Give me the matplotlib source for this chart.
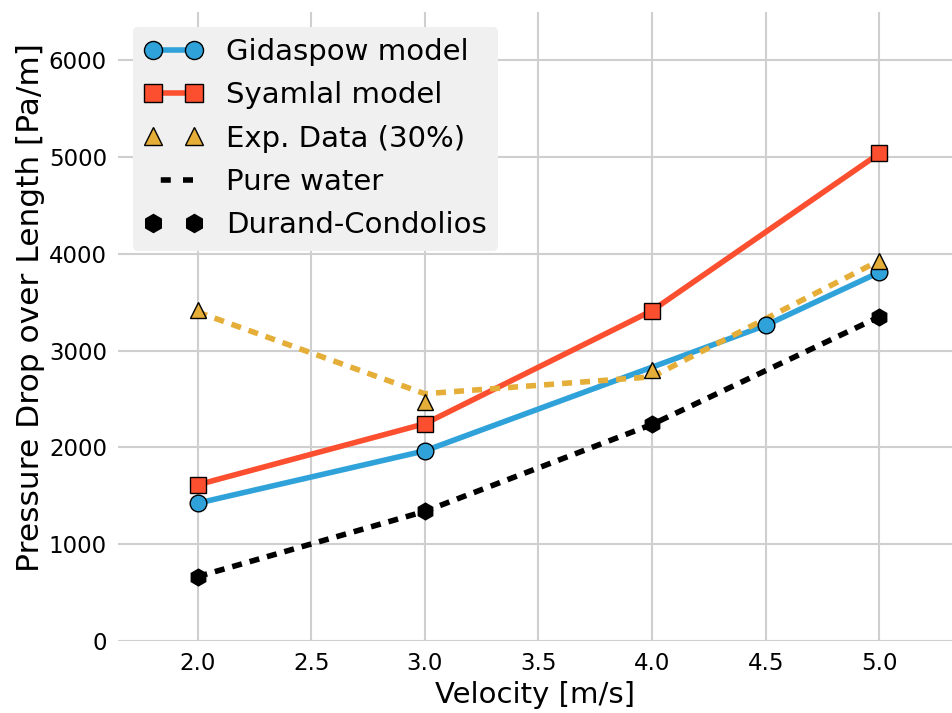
import matplotlib
matplotlib.use('Agg')
import matplotlib.pyplot as plt
from matplotlib.lines import Line2D

# data
vel_gida = [2.0, 3.0, 4.5, 5.0]
dp_gida = [1424, 1965, 3262, 3810]

vel_syam = [2.0, 3.0, 4.0, 5.0]
dp_syam = [1614, 2245, 3414, 5038]

vel_exp = [2.0, 3.0, 4.0, 5.0]
dp_exp = [3424, 2469, 2800, 3924]
dp_exp_fit = [3400, 2555, 2730, 3930]

vel_water = [2.0, 3.0, 4.0, 5.0]
dp_water = [665, 1340, 2238, 3350]
dp_durand = [665, 1340, 2238, 3350]

blue = '#30a2da'
red = '#fc4f30'
yellow = '#e5ae38'

plt.rcParams['font.family'] = 'DejaVu Sans'

fig = plt.figure(figsize=(9.52, 7.13), dpi=100)
ax = fig.add_axes([118/952, 72/713, 1 - 118/952, (641 - 12)/713])

dash = (1.8, 1.45)  # scaled by linewidth

ax.plot(vel_gida, dp_gida, '-', color=blue, lw=4, zorder=2)
ax.plot(vel_syam, dp_syam, '-', color=red, lw=4, zorder=2)
ax.plot(vel_exp, dp_exp_fit, color=yellow, lw=4, dashes=dash, zorder=2.5)
ax.plot(vel_water, dp_water, color='black', lw=4, dashes=dash, zorder=2.5)

mk = dict(ms=12, mec='black', mew=1, zorder=3)
ax.plot(vel_gida, dp_gida, 'o', color=blue, **mk)
ax.plot(vel_syam, dp_syam, 's', color=red, **mk)
ax.plot(vel_water, dp_durand, 'h', color='black', **mk)
ax.plot(vel_exp, dp_exp, '^', color=yellow, **mk)

ax.set_xlim(1.65, 5.32)
ax.set_ylim(0, 6500)
ax.set_xticks([2.0, 2.5, 3.0, 3.5, 4.0, 4.5, 5.0])
ax.set_yticks([0, 1000, 2000, 3000, 4000, 5000, 6000])
ax.grid(True, color='#cfcfcf', lw=1.5)
ax.set_axisbelow(True)
for s in ax.spines.values():
    s.set_visible(False)
ax.tick_params(length=0, labelsize=16.5, pad=8)

ax.set_xlabel('Velocity [m/s]', fontsize=21, labelpad=4)
ax.set_ylabel('Pressure Drop over Length [Pa/m]', fontsize=22.5)
ax.yaxis.set_label_coords(-0.088, 0.53)

handles = [
    Line2D([], [], color=blue, lw=4, marker='o', ms=13, mec='black', mew=1),
    Line2D([], [], color=red, lw=4, marker='s', ms=13, mec='black', mew=1),
    Line2D([], [], ls='none', color=yellow, marker='^', ms=13, mec='black', mew=1),
    Line2D([], [], color='black', lw=4, ls=(2.6, (1.8, 2.2))),
    Line2D([], [], ls='none', color='black', marker='h', ms=13, mec='black'),
]
labels = ['Gidaspow model', 'Syamlal model', 'Exp. Data (30%)', 'Pure water', 'Durand-Condolios']
leg = ax.legend(handles, labels, loc='upper left', fontsize=21, numpoints=2,
                fancybox=True, framealpha=1, facecolor='#f0f0f0', edgecolor='none',
                borderaxespad=0.5, labelspacing=0.52, handletextpad=0.8)

fig.savefig('out.png', dpi=100)
